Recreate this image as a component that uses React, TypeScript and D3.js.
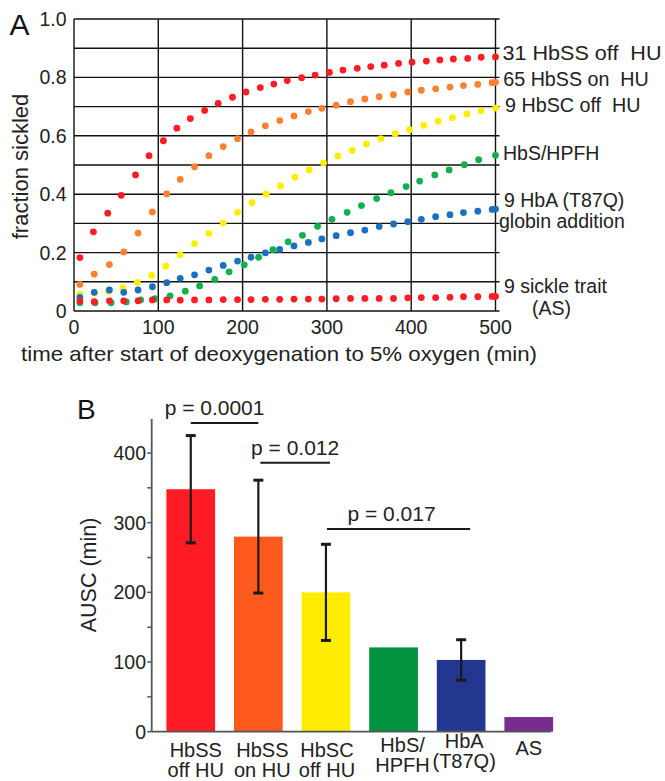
import React from 'react';
import * as d3 from 'd3';

// ---------- Panel A data ----------
const timesHbSSoff = [7, 23, 40, 56, 73, 89, 106, 122, 138, 155, 171, 188, 204, 221, 237, 253, 270, 286, 303, 319, 336, 352, 368, 385, 401, 418, 434, 450, 467, 483, 500];
const hbssOff = [0.183, 0.271, 0.335, 0.396, 0.466, 0.532, 0.583, 0.626, 0.659, 0.687, 0.711, 0.732, 0.75, 0.765, 0.777, 0.789, 0.799, 0.808, 0.817, 0.825, 0.831, 0.837, 0.842, 0.848, 0.852, 0.856, 0.86, 0.863, 0.865, 0.869, 0.87];

const times31 = [7, 24, 42, 59, 76, 93, 110, 126, 143, 160, 177, 194, 210, 227, 244, 261, 278, 294, 311, 328, 345, 362, 379, 396, 412, 429, 446, 462, 479, 496, 500];
const hbssOn = [0.091, 0.126, 0.159, 0.202, 0.267, 0.339, 0.401, 0.451, 0.494, 0.532, 0.563, 0.59, 0.613, 0.634, 0.652, 0.668, 0.683, 0.694, 0.705, 0.717, 0.726, 0.734, 0.741, 0.75, 0.756, 0.761, 0.767, 0.772, 0.776, 0.782, 0.783];
const hbaT87Q = [0.047, 0.064, 0.072, 0.064, 0.072, 0.083, 0.097, 0.112, 0.124, 0.14, 0.156, 0.171, 0.184, 0.199, 0.211, 0.223, 0.235, 0.247, 0.258, 0.268, 0.277, 0.289, 0.298, 0.306, 0.314, 0.323, 0.33, 0.337, 0.342, 0.348, 0.349];
const sickleTrait = [0.035, 0.032, 0.035, 0.035, 0.035, 0.038, 0.038, 0.037, 0.038, 0.038, 0.039, 0.039, 0.039, 0.04, 0.04, 0.041, 0.041, 0.041, 0.042, 0.043, 0.043, 0.043, 0.043, 0.045, 0.046, 0.046, 0.047, 0.049, 0.049, 0.05, 0.05];

const timesHbSC = [7, 24, 41, 58, 75, 92, 109, 126, 143, 160, 177, 194, 211, 228, 245, 262, 279, 296, 313, 330, 347, 364, 381, 398, 415, 432, 449, 466, 483, 500];
const hbsc = [0.058, 0.062, 0.068, 0.08, 0.098, 0.122, 0.154, 0.193, 0.231, 0.266, 0.301, 0.338, 0.371, 0.4, 0.429, 0.458, 0.483, 0.507, 0.531, 0.55, 0.572, 0.59, 0.607, 0.621, 0.636, 0.65, 0.662, 0.675, 0.686, 0.695];

const timesHPFH = [7, 25, 44, 62, 79, 96, 114, 132, 149, 167, 184, 202, 219, 236, 254, 271, 289, 306, 324, 341, 359, 376, 394, 410, 428, 445, 463, 480, 500];
const hbsHpfh = [0.028, 0.028, 0.028, 0.031, 0.038, 0.042, 0.052, 0.068, 0.086, 0.108, 0.134, 0.158, 0.184, 0.21, 0.237, 0.259, 0.29, 0.314, 0.338, 0.361, 0.385, 0.405, 0.426, 0.445, 0.466, 0.483, 0.501, 0.518, 0.533];

const xTicksA = [0, 100, 200, 300, 400, 500];
const yTickLabelsA = [0, 0.2, 0.4, 0.6, 0.8, 1.0];
const yGridA = [0, 0.1, 0.2, 0.3, 0.4, 0.5, 0.6, 0.7, 0.8, 0.9, 1.0];

// ---------- Panel B data ----------
const barLine1 = ['HbSS', 'HbSS', 'HbSC', 'HbS/', 'HbA', 'AS'];
const barLine2 = ['off HU', 'on HU', 'off HU', 'HPFH', '(T87Q)', ''];
const barValues = [348, 280, 200, 121, 103, 21];
const barErrors = [77, 81, 69, 0, 29, 0];
const barColors = ['#ff1c24', '#ff5a1e', '#ffec00', '#00923f', '#233790', '#772d90'];
const yTicksB = [0, 100, 200, 300, 400];
const yMinorB = [50, 150, 250, 350];
const sigPairs = [
  { a: 0, b: 1, label: 'p = 0.0001', level: 443 },
  { a: 1, b: 2, label: 'p = 0.012', level: 386 },
  { a: 2, b: 4, label: 'p = 0.017', level: 291 },
];

// layout tweaks (pixels)
const labelDx = [5, 4, 1, 9, 3, 0];
const labelDy = [0, 0, 0, -5, -9, -2];
const sigTextDx = [-10, 3, -2];
const sigLineDx1 = [0, 2, 1];
const sigLineDx2 = [0, 4, 9];

const FONT = '"Liberation Sans", Arial, Helvetica, sans-serif';
const FS = 19.5;
const INK = '#222';

export default function App() {
  const xA = d3.scaleLinear().domain([0, 500]).range([74, 495.5]);
  const yA = d3.scaleLinear().domain([0, 1]).range([311, 19]);

  const seriesA = [
    { t: timesHbSC, v: hbsc, color: '#ffee00' },
    { t: timesHPFH, v: hbsHpfh, color: '#12b04a' },
    { t: times31, v: hbaT87Q, color: '#1a6fc0' },
    { t: times31, v: hbssOn, color: '#ff8030' },
    { t: timesHbSSoff, v: hbssOff, color: '#ff1c24' },
    { t: times31, v: sickleTrait, color: '#ff1c24' },
  ];

  const labelsA: { text: string; x: number; y: number; len?: number }[] = [
    { text: '31 HbSS off  HU', x: 502.5, y: 59.5, len: 159 },
    { text: '65 HbSS on  HU', x: 503.3, y: 86, len: 145.5 },
    { text: '9 HbSC off  HU', x: 505, y: 111.7, len: 135.5 },
    { text: 'HbS/HPFH', x: 503, y: 160 },
    { text: '9 HbA (T87Q)', x: 504, y: 207 },
    { text: 'globin addition', x: 499, y: 228 },
    { text: '9 sickle trait', x: 504, y: 293 },
    { text: '(AS)', x: 532, y: 315 },
  ];

  const xB = d3.scaleBand().domain(barLine1.map((_, i) => String(i))).range([166.4, 166.4 + 6 * 67.6 - 18.9]).paddingInner(18.9 / 67.6).paddingOuter(0);
  const yB = d3.scaleLinear().domain([0, 400]).range([731.7, 453]);
  const axisLeftX = 151.7;
  const cx = (i: number) => (xB(String(i)) as number) + xB.bandwidth() / 2;

  return (
    <svg width={665} height={781} style={{ position: 'absolute', left: 0, top: 0, background: '#fff' }} fontFamily={FONT}>
      {/* ---------------- Panel A ---------------- */}
      <text x={9.5} y={35} fontSize={30} fill="#111">A</text>
      {yGridA.map((v) => (
        <line key={'hg' + v} x1={xA(0)} x2={xA(500) + 4} y1={yA(v)} y2={yA(v)} stroke="#111" strokeWidth={1.4} />
      ))}
      {xTicksA.map((t) => (
        <line key={'vg' + t} x1={xA(t)} x2={xA(t)} y1={yA(1)} y2={yA(0)} stroke="#111" strokeWidth={1.4} />
      ))}
      {yTickLabelsA.map((v) => (
        <text key={'yl' + v} x={66.5} y={yA(v) + 7} fontSize={FS} textAnchor="end" fill={INK}>
          {v === 0 ? '0' : v.toFixed(1)}
        </text>
      ))}
      {xTicksA.map((t) => (
        <text key={'xl' + t} x={xA(t)} y={334} fontSize={FS} textAnchor="middle" fill={INK}>{t}</text>
      ))}
      <text x={21} y={361} fontSize={21} fill={INK} textLength={516} lengthAdjust="spacingAndGlyphs">time after start of deoxygenation to 5% oxygen (min)</text>
      <text transform="translate(28,166.5) rotate(-90)" fontSize={22} textAnchor="middle" fill={INK}>fraction sickled</text>
      {seriesA.map((s, si) => (
        <g key={'s' + si}>
          {s.v.map((v, i) => (
            <circle key={i} cx={xA(s.t[i])} cy={yA(v)} r={3.4} fill={s.color} />
          ))}
        </g>
      ))}
      {labelsA.map((l) => (
        <text key={l.text} x={l.x} y={l.y} fontSize={FS} fill={INK} style={{ whiteSpace: 'pre' }}
          {...(l.len ? { textLength: l.len, lengthAdjust: 'spacingAndGlyphs' } : {})}>{l.text}</text>
      ))}

      {/* ---------------- Panel B ---------------- */}
      <text x={77} y={419} fontSize={28} fill="#111">B</text>
      {barValues.map((v, i) => (
        <rect key={'b' + i} x={xB(String(i))} y={yB(v)} width={xB.bandwidth()} height={yB(0) - yB(v)} fill={barColors[i]} />
      ))}
      <line x1={axisLeftX} x2={axisLeftX} y1={419} y2={yB(0)} stroke="#555" strokeWidth={1.8} />
      <line x1={axisLeftX} x2={551} y1={yB(0)} y2={yB(0)} stroke="#555" strokeWidth={1.8} />
      {yTicksB.concat(yMinorB).map((v) => (
        <line key={'yt' + v} x1={axisLeftX - 4.5} x2={axisLeftX} y1={yB(v)} y2={yB(v)} stroke="#555" strokeWidth={1.5} />
      ))}
      {yTicksB.map((v) => (
        <text key={'ytl' + v} x={146} y={yB(v) + 7} fontSize={FS} textAnchor="end" fill={INK}>{v}</text>
      ))}
      <text transform="translate(96,575) rotate(-90)" fontSize={21.5} textAnchor="middle" fill={INK}>AUSC (min)</text>
      {barValues.map((v, i) =>
        barErrors[i] > 0 ? (
          <g key={'e' + i} stroke="#1a1a1a">
            <line x1={cx(i)} x2={cx(i)} y1={yB(v + barErrors[i])} y2={yB(v - barErrors[i])} strokeWidth={2.2} />
            <line x1={cx(i) - 5} x2={cx(i) + 5} y1={yB(v + barErrors[i])} y2={yB(v + barErrors[i])} strokeWidth={3} />
            <line x1={cx(i) - 5} x2={cx(i) + 5} y1={yB(v - barErrors[i])} y2={yB(v - barErrors[i])} strokeWidth={3} />
          </g>
        ) : null
      )}
      {sigPairs.map((p, k) => (
        <g key={p.label}>
          <line x1={cx(p.a) + sigLineDx1[k]} x2={cx(p.b) + sigLineDx2[k]} y1={yB(p.level)} y2={yB(p.level)} stroke="#1a1a1a" strokeWidth={2} />
          <text x={(cx(p.a) + cx(p.b)) / 2 + sigTextDx[k]} y={yB(p.level) - 8} fontSize={21} textAnchor="middle" fill={INK}>{p.label}</text>
        </g>
      ))}
      {barLine1.map((l, i) => (
        <g key={'cl' + i}>
          <text x={cx(i) + labelDx[i]} y={756.7 + labelDy[i]} fontSize={20} textAnchor="middle" fill={INK}>{l}</text>
          <text x={cx(i) + labelDx[i]} y={777 + labelDy[i]} fontSize={20} textAnchor="middle" fill={INK}>{barLine2[i]}</text>
        </g>
      ))}
    </svg>
  );
}
